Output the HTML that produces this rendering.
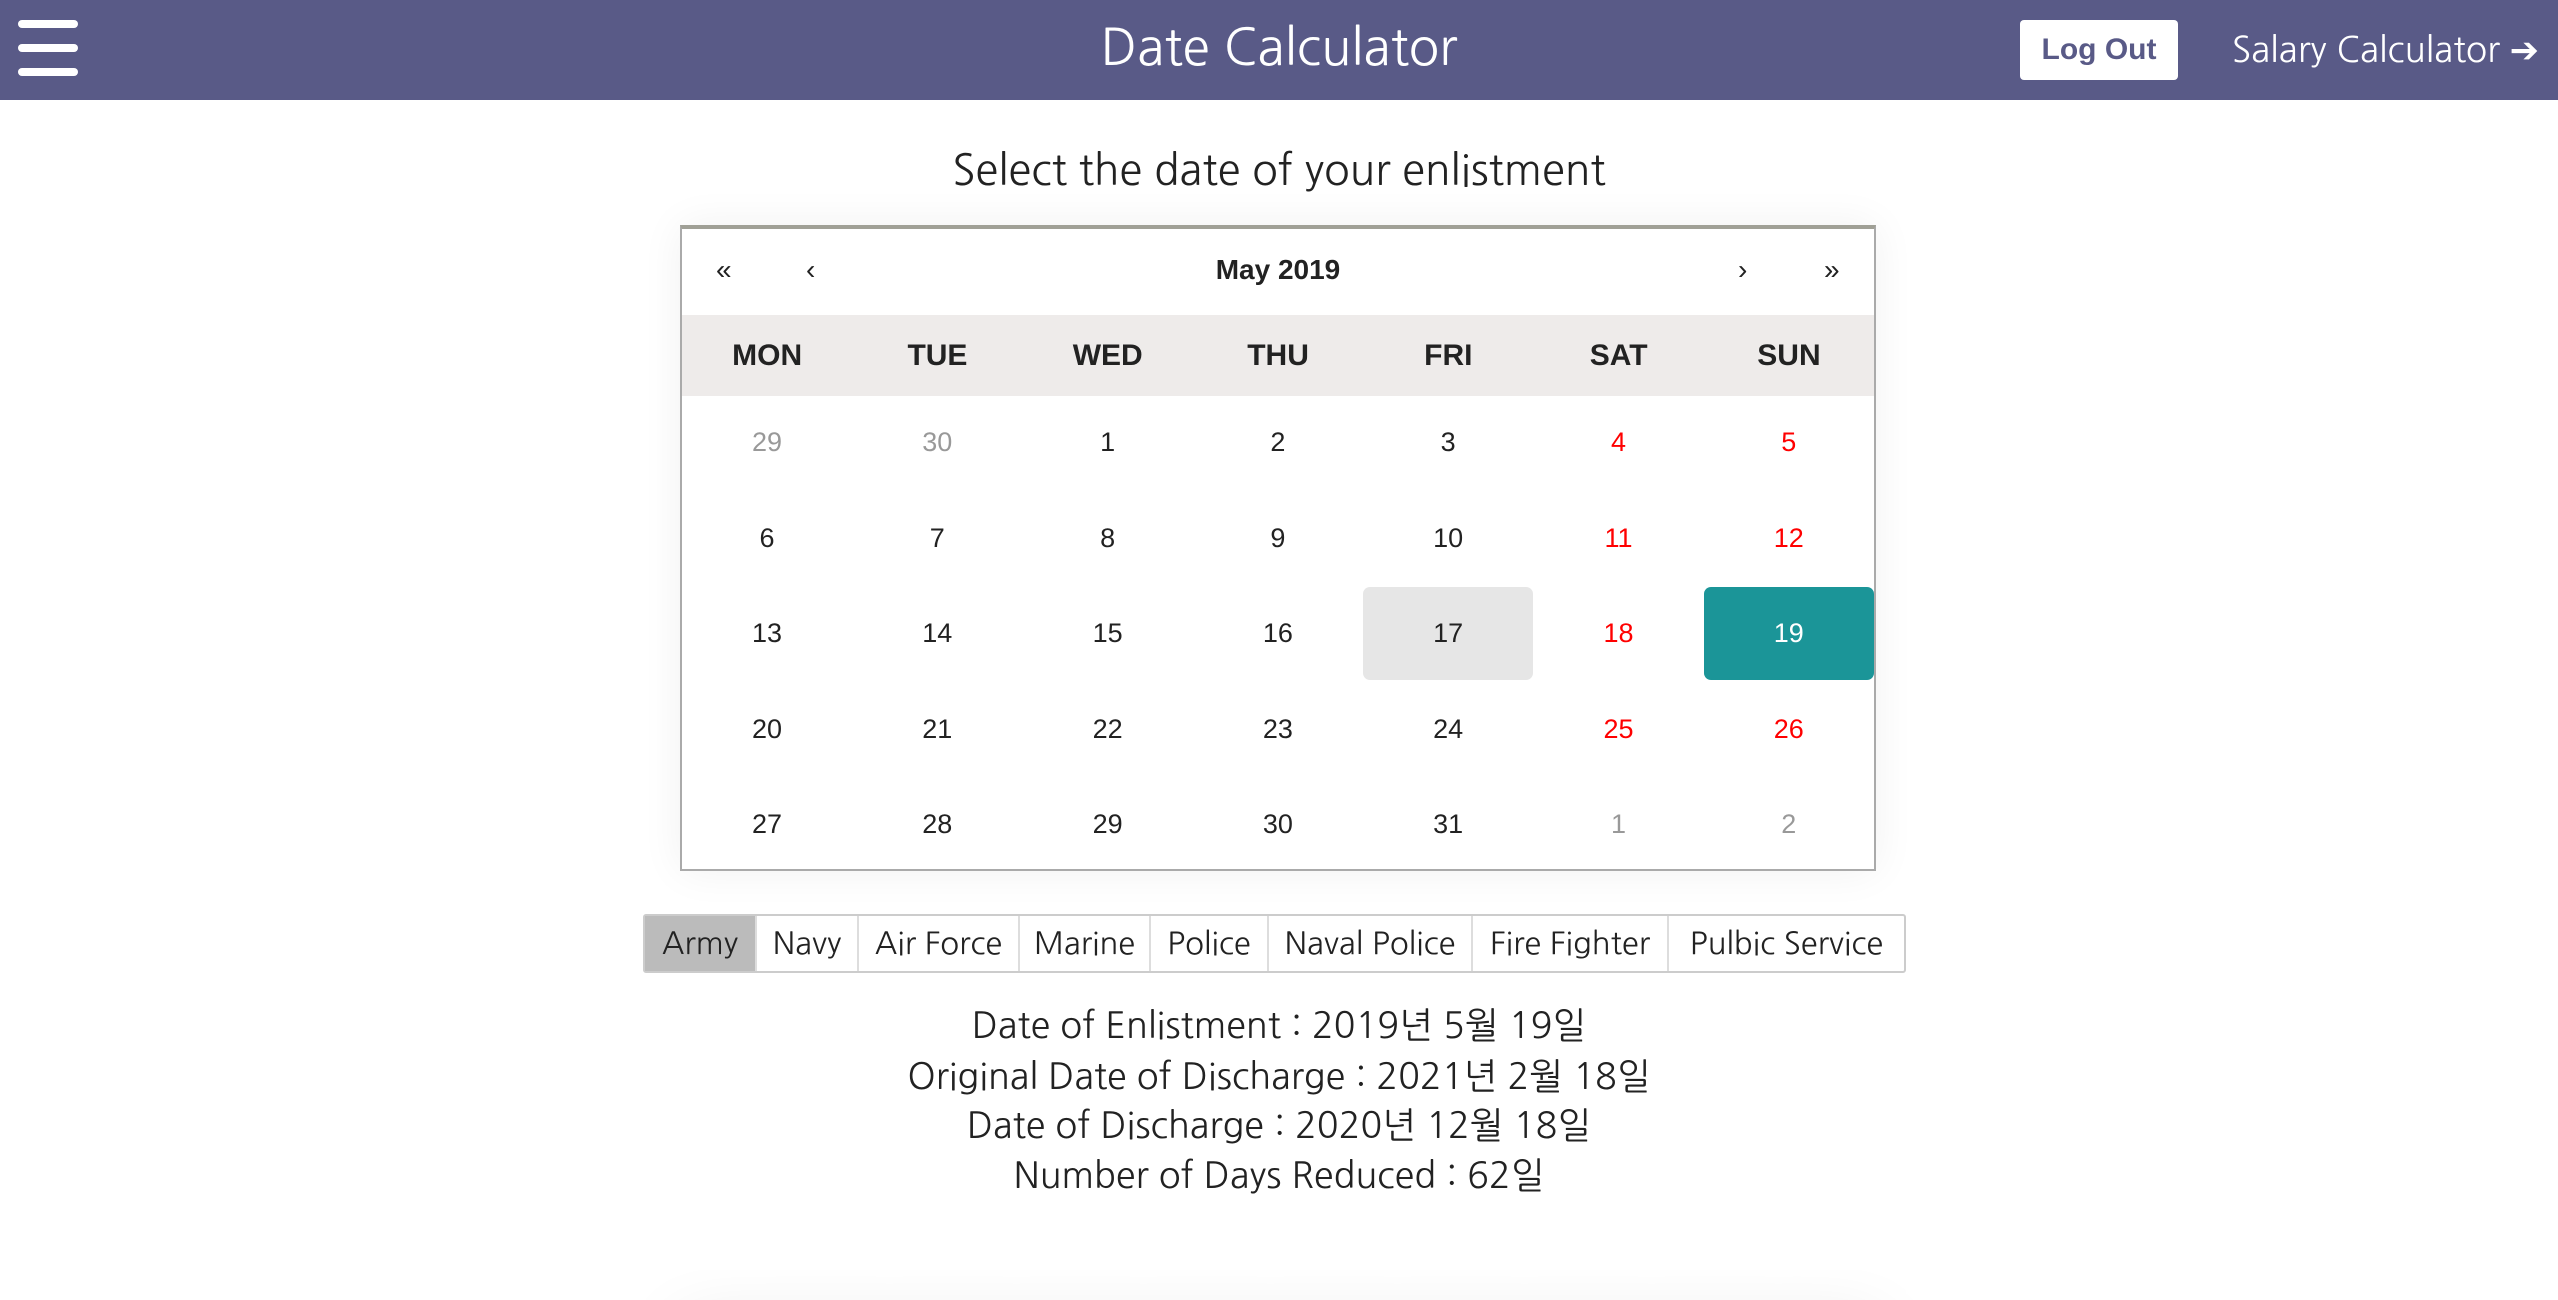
<!DOCTYPE html>
<html><head><meta charset="utf-8">
<style>
*{box-sizing:border-box;margin:0;padding:0}
html,body{width:2558px;height:1300px;overflow:hidden;background:#fff}
body{position:relative;font-family:"NanumGothic","Liberation Sans","Noto Sans CJK KR",sans-serif;color:#222}
.hdr{position:absolute;left:0;top:0;width:2558px;height:100px;background:#595a87}
.bar{position:absolute;left:18px;width:60px;height:8px;border-radius:4px;background:#fff}
.title{position:absolute;left:0;width:2558px;top:18px;text-align:center;color:#fff;font-size:50px;line-height:60px}
.logout{position:absolute;left:2020px;top:20px;width:158px;height:60px;background:#fff;border-radius:4px;color:#595a87;font-weight:bold;font-size:30px;line-height:60px;text-align:center;font-family:"Liberation Sans",sans-serif}
.salary{position:absolute;left:2232px;top:26px;color:#fff;font-size:35px;line-height:50px;white-space:nowrap}
.sel{position:absolute;left:0;width:2558px;top:143px;text-align:center;font-size:42px;line-height:56px;color:#222}
.cal{position:absolute;left:680px;top:225px;width:1196px;height:646px;border:2px solid #aaa;border-top:4px solid #a0a096;box-shadow:0 0 40px rgba(0,0,0,0.06);font-family:"Liberation Sans",sans-serif;background:#fff}
.nav{position:absolute;top:-3px;height:88px;line-height:88px;font-size:28px;color:#222}
.wk{position:absolute;left:0;top:86px;width:1192px;height:81px;background:#eeebea}
.wd{position:absolute;top:0;width:170.3px;text-align:center;line-height:81px;font-weight:bold;font-size:30px;color:#222}
.day{position:absolute;width:170px;height:93px;text-align:center;line-height:93px;font-size:27px;color:#222;border-radius:7px}
.grp{position:absolute;left:643px;top:914px;height:59px;border:2px solid #ccc;border-radius:3px;display:flex}
.btn{height:55px;line-height:55px;text-align:center;font-size:31px;color:#222;border-left:2px solid #ddd}
.res{position:absolute;left:0;width:2558px;text-align:center;font-size:36px;line-height:50px;color:#222}
.clip{position:absolute;left:0;top:1150px;width:2558px;height:150px;overflow:hidden}
.card{position:absolute;left:680px;top:180px;width:1200px;height:200px;box-shadow:0 0 70px rgba(0,0,0,0.14);background:#fff}
</style></head><body>
<div class="hdr">
 <div>
  <div class="bar" style="top:20px"></div><div class="bar" style="top:44px"></div><div class="bar" style="top:68px"></div>
 </div>
 <div class="title">Date Calculator</div>
 <div class="logout">Log Out</div>
 <div class="salary">Salary Calculator <span style="font-family:'DejaVu Sans';font-weight:bold">➔</span></div>
</div>
<div class="sel">Select the date of your enlistment</div>
<div class="cal">
 <div class="nav" style="left:34px">«</div>
 <div class="nav" style="left:124px">‹</div>
 <div class="nav" style="left:0;width:1192px;text-align:center;font-weight:bold">May 2019</div>
 <div class="nav" style="left:1056px">›</div>
 <div class="nav" style="left:1142px">»</div>
 <div class="wk" id="wk"></div>
 <div id="days"></div>
</div>
<div class="grp" id="grp"></div>
<div class="res" style="top:1001px">Date of Enlistment : 2019년 5월 19일</div>
<div class="res" style="top:1052px">Original Date of Discharge : 2021년 2월 18일</div>
<div class="res" style="top:1101px">Date of Discharge : 2020년 12월 18일</div>
<div class="res" style="top:1151px">Number of Days Reduced : 62일</div>
<div class="clip"><div class="card"></div></div>
<script>
const wdNames=["MON","TUE","WED","THU","FRI","SAT","SUN"];
const days=[29,30,1,2,3,4,5,6,7,8,9,10,11,12,13,14,15,16,17,18,19,20,21,22,23,24,25,26,27,28,29,30,31,1,2];
const services=["Army","Navy","Air Force","Marine","Police","Naval Police","Fire Fighter","Pulbic Service"];
const svcW=[110,102,161,131,118,204,196,237];
const wk=document.getElementById('wk');
wdNames.forEach((n,i)=>{const d=document.createElement('div');d.className='wd';d.style.left=(i*170.3)+'px';d.textContent=n;


wk.appendChild(d);});
const dc=document.getElementById('days');
days.forEach((v,i)=>{const r=Math.floor(i/7),c=i%7;const d=document.createElement('div');d.className='day';
d.style.left=(c*170.3)+'px';d.style.top=(167+r*95.6)+'px';d.textContent=v;
const other=(r==0&&v>20)||(r==4&&v<10);
if(other)d.style.color='#999';else if(c>=5)d.style.color='#f00';
if(r==2&&c==4)d.style.background='#e6e6e6';
if(r==2&&c==6){d.style.background='#1b9598';d.style.color='#fff';}


dc.appendChild(d);});
const g=document.getElementById('grp');
services.forEach((s,i)=>{const b=document.createElement('div');b.className='btn';b.style.width=svcW[i]+'px';b.textContent=s;
if(i==0){b.style.background='#bbb';b.style.borderLeft='none';}


g.appendChild(b);});
</script>
</body></html>
